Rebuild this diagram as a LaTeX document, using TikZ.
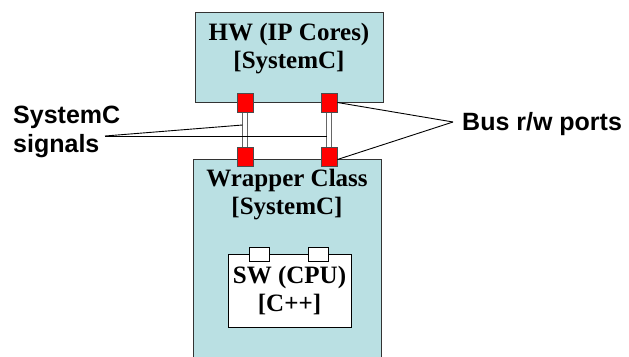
\documentclass[tikz,border=0pt]{standalone}
\usepackage{fontspec}
\setmainfont{Liberation Serif}
\setsansfont{Liberation Sans}
\usepackage{tikz}
\usetikzlibrary{positioning}
\definecolor{boxfill}{RGB}{186,224,227}
\definecolor{portred}{RGB}{255,0,0}
\tikzset{
    block/.style={rectangle, draw=black!80, line width=1pt, fill=boxfill, inner sep=0pt},
    port/.style={rectangle, draw=black!70, line width=0.8pt, fill=portred, minimum width=16pt, minimum height=19pt, inner sep=0pt},
    sigwire/.style={draw=black!60, line width=1.3pt, double=white, double distance=4pt},
    callout/.style={draw=black, line width=0.9pt}
}

\begin{document}
\begin{tikzpicture}[x=1pt, y=-1pt,
        serlabel/.style={font=\fontsize{25}{28}\selectfont\bfseries, align=center, inner sep=0pt},
        sanlabel/.style={font=\sffamily\fontsize{25}{29}\selectfont\bfseries, align=left, inner sep=0pt},
        swport/.style={rectangle, draw=black, line width=0.8pt, fill=white, minimum width=20pt, minimum height=14pt, inner sep=0pt}
    ]
        \useasboundingbox (0,0) rectangle (629,356);
        \clip (0,0) rectangle (629,356);

        % HW block
        \node[block, minimum width=188pt, minimum height=90pt] (hw) at (289,57) {};
        \node[serlabel] (hwText) at (289,48.5) {HW (IP Cores)\\{[SystemC]}};

        % Wrapper block
        \node[block, minimum width=188pt, minimum height=200pt] (wrap) at (287,259) {};
        \node[serlabel] (wrapText) at (287,195) {Wrapper Class\\{[SystemC]}};

        % SW inside wrapper
        \node[rectangle, draw=black, line width=0.8pt, fill=white, minimum width=123pt, minimum height=73pt] (sw) at (289.5,290.5) {};
        \node[swport] (swL) at (259,254) {};
        \node[swport] (swR) at (318.5,254) {};
        \node[serlabel] (swText) at (289.5,290.4) {SW (CPU)\\{[C++]}};

        % Signals between the ports
        \draw[sigwire] (245,112) -- (245,147);
        \draw[sigwire] (329,112) -- (329,147);
        \node[port] (hwL) at (245,102.5) {};
        \node[port] (hwR) at (329,102.5) {};
        \node[port] (wrL) at (245,156.5) {};
        \node[port] (wrR) at (329,156.5) {};

        % Labels
        \node[sanlabel, anchor=west] (sigText) at (13,131.5) {SystemC\\signals};
        \node[sanlabel, anchor=base west] (busText) at (462,130) {Bus r/w ports};

        \coordinate (sigTip) at (105,136);
        \coordinate (sigA) at (242.5,125);
        \coordinate (sigB) at (326.5,136);
        \coordinate (busTip) at (453,122);

        % Callout lines
        \draw[callout] (sigTip) -- (sigA);
        \draw[callout] (sigTip) -- (sigB);
        \draw[callout] (busTip) -- (hwR.east);
        \draw[callout] (busTip) -- ([yshift=-3pt]wrR.east);
    \end{tikzpicture}
\end{document}
